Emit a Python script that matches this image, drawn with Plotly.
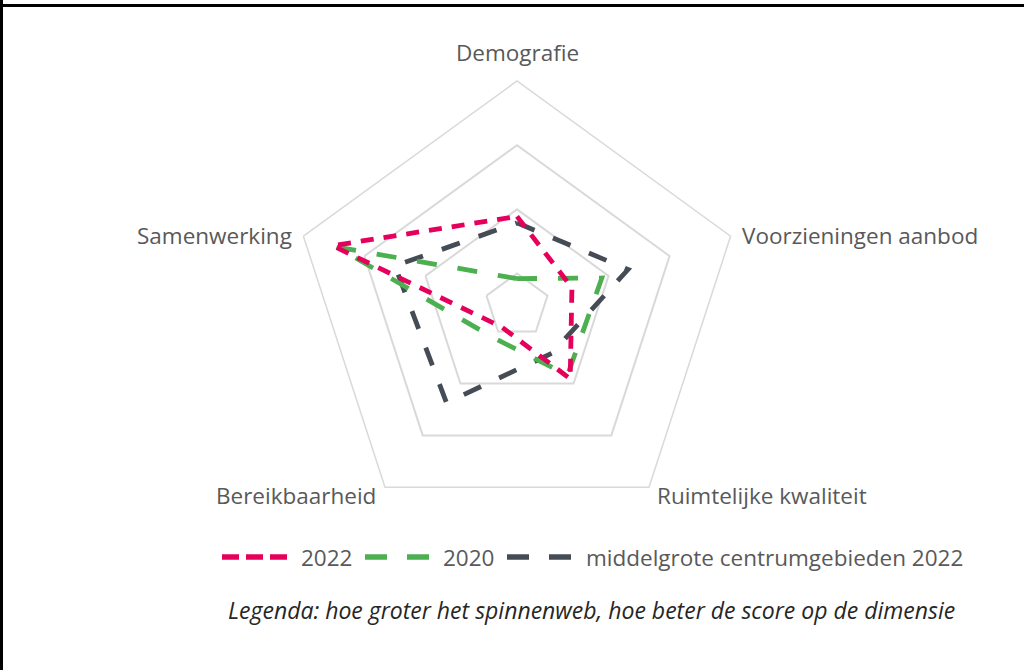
import plotly.graph_objects as go

W, H = 1024, 670

dimensions = ["Demografie", "Voorzieningen aanbod", "Ruimtelijke kwaliteit",
              "Bereikbaarheid", "Samenwerking"]
scores_2022 = [1.89, 1.40, 1.91, 0.91, 3.52]
scores_2020 = [0.92, 1.89, 1.84, 1.12, 3.45]
scores_middelgrote_2022 = [1.79, 2.32, 1.42, 2.37, 2.50]
series_names = ["2022", "2020", "middelgrote centrumgebieden 2022"]
ring_values = [1, 2, 3, 4]
caption = "Legenda: hoe groter het spinnenweb, hoe beter de score op de dimensie"

FONT = "Open Sans"
LABEL_COLOR = "#595959"
GRID = "#d9d9d9"
COLORS = ["#e6005c", "#4caf50", "#454c56"]
DASHES = ["13px,10px", "20px,21px", "19px,20px"]
LEGEND_DASHES = ["17px,7px", "22px,20px", "22px,20px"]


def closed(v):
    return list(v) + [v[0]]


def px_x(x):
    return x / W


def px_y(y):
    return 1 - y / H


fig = go.Figure()
all_scores = [scores_2022, scores_2020, scores_middelgrote_2022]
for i in (2, 1, 0):
    fig.add_trace(go.Scatterpolar(
        r=closed(all_scores[i]), theta=closed(dimensions), mode="lines",
        name=series_names[i], line=dict(color=COLORS[i], width=4.8, dash=DASHES[i]),
        hoverinfo="skip", showlegend=False,
    ))

cx, cy, R = 517, 305.6, 224.6

annotations = []
# axis labels (placed like the reference)
label_pos = [
    (517, 53, "center"),
    (740, 236, "left"),
    (655, 495, "left"),
    (378, 495, "right"),
    (294, 236, "right"),
]
for name, (x, y, anchor) in zip(dimensions, label_pos):
    annotations.append(dict(text=name, x=px_x(x), y=px_y(y), xref="paper", yref="paper",
                            showarrow=False, xanchor=anchor, yanchor="middle",
                            font=dict(size=22.5, color=LABEL_COLOR, family=FONT)))

# legend
shapes = []
legend_items = [(222, 288, 299), (365, 431, 441), (507, 573, 584)]
ly = 557
for i, (x0, x1, tx) in enumerate(legend_items):
    shapes.append(dict(type="line", xref="paper", yref="paper",
                       x0=px_x(x0), x1=px_x(x1), y0=px_y(ly), y1=px_y(ly),
                       line=dict(color=COLORS[i], width=5.5, dash=LEGEND_DASHES[i])))
    annotations.append(dict(text=series_names[i], x=px_x(tx), y=px_y(ly), xref="paper",
                            yref="paper", showarrow=False, xanchor="left", yanchor="middle",
                            font=dict(size=22.5, color=LABEL_COLOR, family=FONT)))

annotations.append(dict(text=caption, x=px_x(591), y=px_y(610), xref="paper", yref="paper",
                        showarrow=False, xanchor="center", yanchor="middle",
                        font=dict(size=23, color="#262626", family=FONT, style="italic")))

# frame
shapes += [
    dict(type="line", xref="paper", yref="paper", x0=0, x1=1,
         y0=px_y(5.5), y1=px_y(5.5), line=dict(color="black", width=3)),
    dict(type="line", xref="paper", yref="paper", x0=px_x(1.5), x1=px_x(1.5),
         y0=0, y1=1, line=dict(color="black", width=3)),
]

fig.update_layout(
    width=W, height=H,
    margin=dict(l=0, r=0, t=0, b=0),
    paper_bgcolor="white",
    font=dict(family=FONT, color=LABEL_COLOR),
    polar=dict(
        domain=dict(x=[(cx - R) / W, (cx + R) / W],
                    y=[1 - (cy + R) / H, 1 - (cy - R) / H]),
        gridshape="linear",
        bgcolor="white",
        radialaxis=dict(range=[0.5, 4], tickvals=ring_values, showticklabels=False,
                        showline=False, ticks="", gridcolor=GRID, gridwidth=1.5),
        angularaxis=dict(rotation=90, direction="clockwise", showgrid=False,
                         showline=True, linecolor=GRID, linewidth=1.5, ticks="",
                         showticklabels=False),
    ),
    showlegend=False,
    annotations=annotations,
    shapes=shapes,
)

fig.write_html("out.html", config={"displayModeBar": False},
               post_script="document.body.style.margin='0';")
